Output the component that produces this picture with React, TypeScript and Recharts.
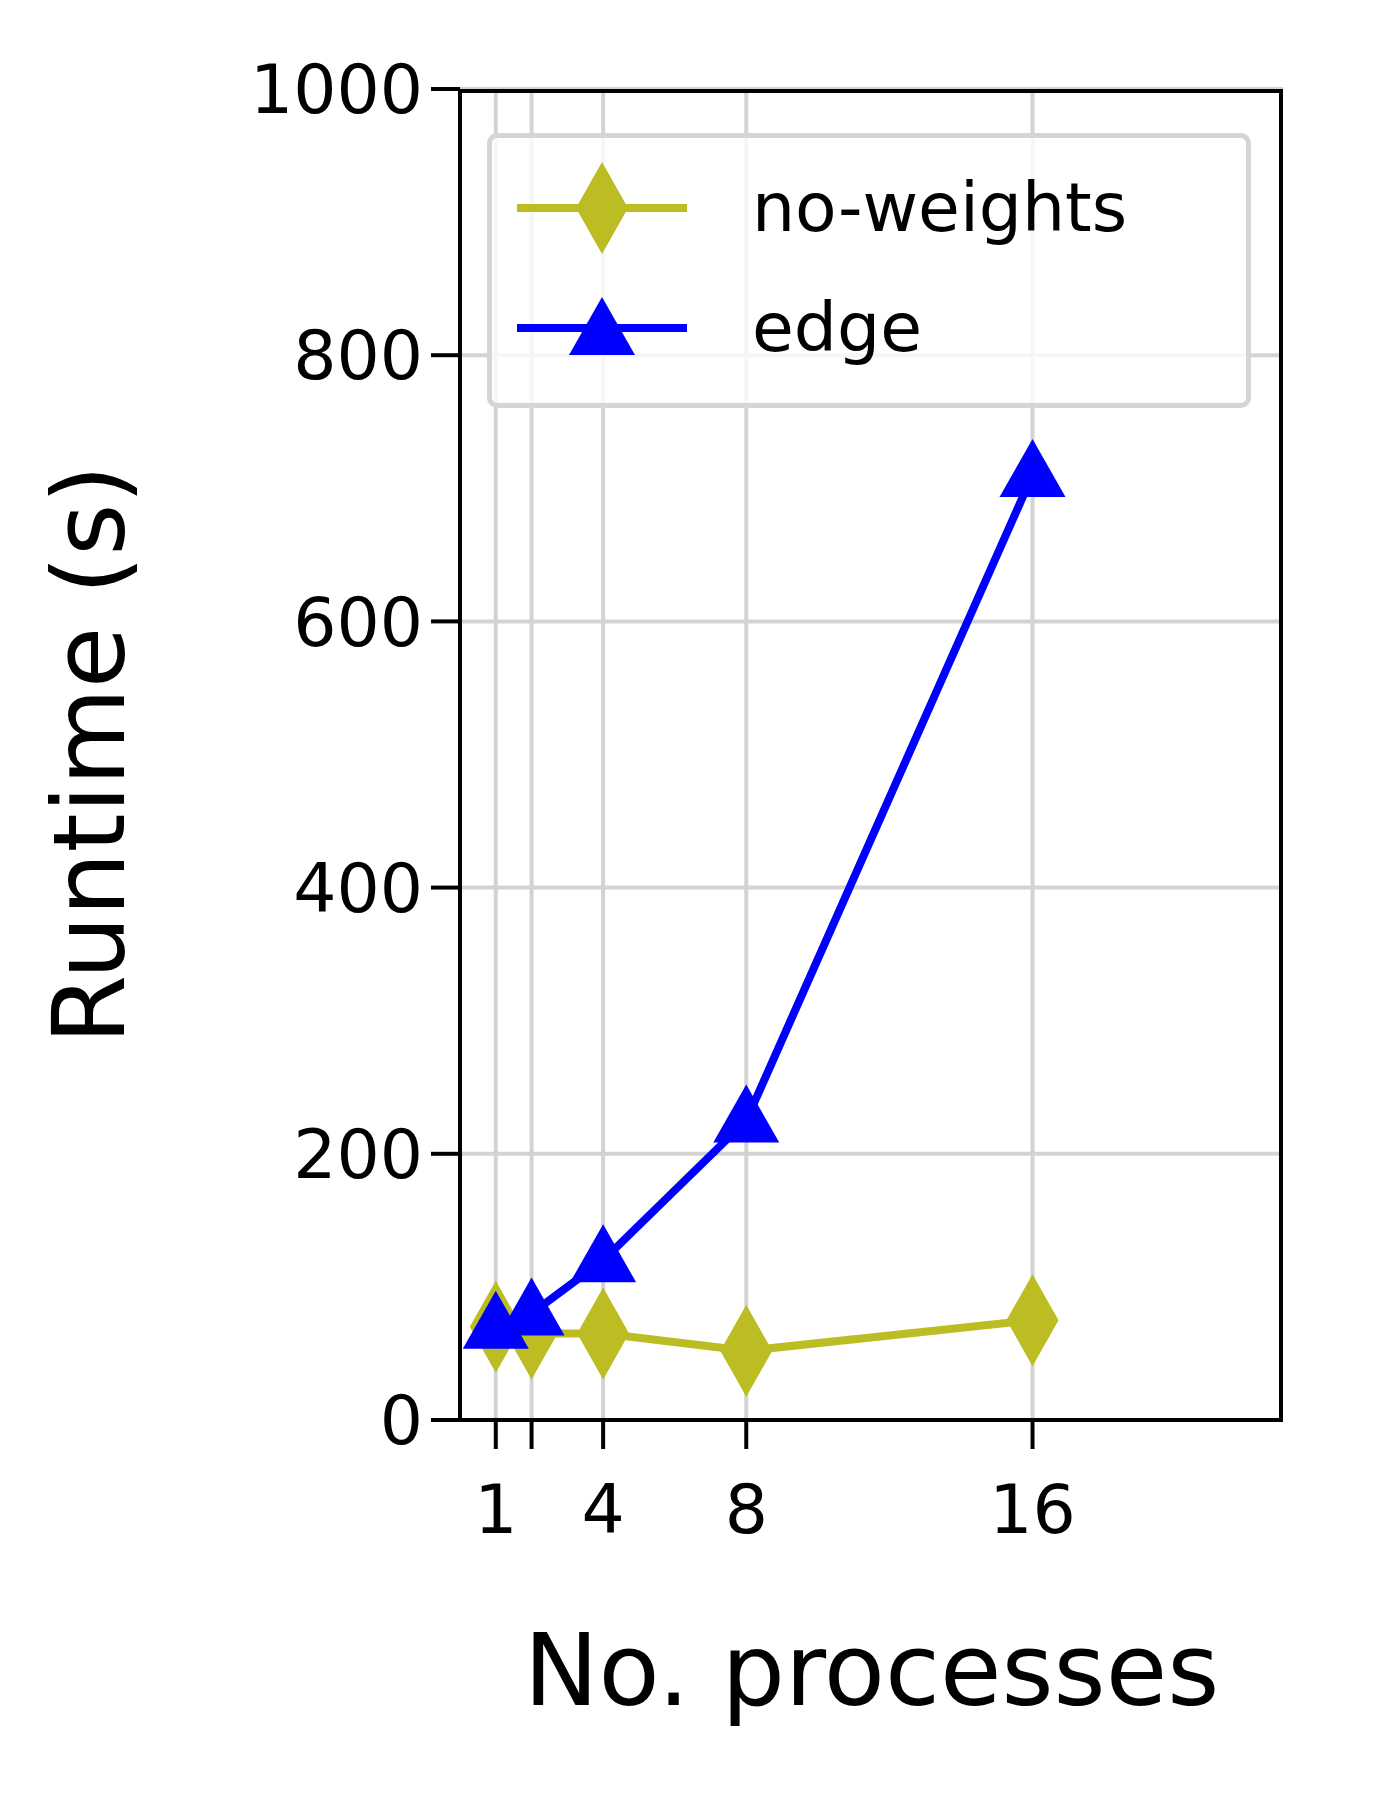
import React from 'react';
import { LineChart, Line, XAxis, YAxis, CartesianGrid, Label } from 'recharts';

const procs = [1, 2, 4, 8, 16];
const noWeights = [70, 65, 65, 52, 75];
const edge = [70, 80, 120, 225, 710];
const xTicks = [1, 2, 4, 8, 16];
const xLabels = ['1', '', '4', '8', '16'];
const yTicks = [0, 200, 400, 600, 800, 1000];

const data = procs.map((p, i) => ({ p, nw: noWeights[i], edge: edge[i] }));

const OLIVE = '#bcbd22';
const BLUE = '#0000ff';
const FONT = 'DejaVu Sans';

const Diamond = (props: any) => {
  const { cx, cy } = props;
  if (cx == null || cy == null) return null;
  return <path d={`M${cx},${cy - 46} L${cx + 26},${cy} L${cx},${cy + 46} L${cx - 26},${cy} Z`} fill={OLIVE} />;
};
const Tri = (props: any) => {
  const { cx, cy } = props;
  if (cx == null || cy == null) return null;
  return <path d={`M${cx},${cy - 36} L${cx + 33},${cy + 22} L${cx - 33},${cy + 22} Z`} fill={BLUE} />;
};

const M = { top: 81, right: 97, bottom: 234, left: 150 };
const W = 1372, H = 1760, XH = 114, YW = 302;

export default function App() {
  return (
    <div style={{ position: 'relative', width: W, height: H, fontFamily: FONT }}>
      <LineChart width={W} height={H} data={data} margin={M}>
        <CartesianGrid stroke="#d3d3d3" strokeWidth={4} horizontalValues={yTicks} verticalValues={xTicks} />
        <XAxis dataKey="p" type="number" domain={[0, 23]} ticks={xTicks} interval={0}
          tickFormatter={(v: number) => xLabels[xTicks.indexOf(v)] ?? ''}
          tick={{ fill: '#000', fontSize: 68, fontFamily: FONT, dy: 34 }}
          tickLine={{ stroke: '#000', strokeWidth: 4 }} tickSize={29}
          axisLine={{ stroke: '#000', strokeWidth: 4 }} height={XH}>
          <Label value="No. processes" position="bottom" offset={100} style={{ fontSize: 100, fill: '#000', fontFamily: FONT }} />
        </XAxis>
        <YAxis type="number" domain={[0, 1000]} ticks={yTicks} interval={0}
          tick={{ fill: '#000', fontSize: 68, fontFamily: FONT, dx: -6 }}
          tickLine={{ stroke: '#000', strokeWidth: 4 }} tickSize={29}
          axisLine={{ stroke: '#000', strokeWidth: 4 }} width={YW}>
          <Label value="Runtime (s)" angle={-90} position="insideLeft" offset={-70} style={{ fontSize: 100, fill: '#000', fontFamily: FONT, textAnchor: 'middle' }} />
        </YAxis>
        <Line dataKey="nw" stroke={OLIVE} strokeWidth={8} dot={<Diamond />} isAnimationActive={false} />
        <Line dataKey="edge" stroke={BLUE} strokeWidth={8} dot={<Tri />} isAnimationActive={false} />
      </LineChart>
      <div style={{ position: 'absolute', left: M.left + YW, top: M.top, width: W - M.left - YW - M.right, height: H - M.top - M.bottom - XH, border: '4px solid #000', borderLeft: 'none', borderBottom: 'none', boxSizing: 'border-box', pointerEvents: 'none' }} />
      <div style={{ position: 'absolute', left: 479, top: 125, width: 764, height: 275, border: '5px solid #d5d5d5', borderRadius: 10, background: 'rgba(255,255,255,0.8)', boxSizing: 'border-box' }}>
        <svg width={764} height={275} style={{ position: 'absolute', left: -5, top: -5 }}>
          <line x1={30} x2={200} y1={75} y2={75} stroke={OLIVE} strokeWidth={8} />
          <Diamond cx={115} cy={75} />
          <line x1={30} x2={200} y1={195} y2={195} stroke={BLUE} strokeWidth={8} />
          <Tri cx={115} cy={200} />
          <text x={265} y={98} fontSize={68} fontFamily={FONT}>no-weights</text>
          <text x={265} y={218} fontSize={68} fontFamily={FONT}>edge</text>
        </svg>
      </div>
    </div>
  );
}
